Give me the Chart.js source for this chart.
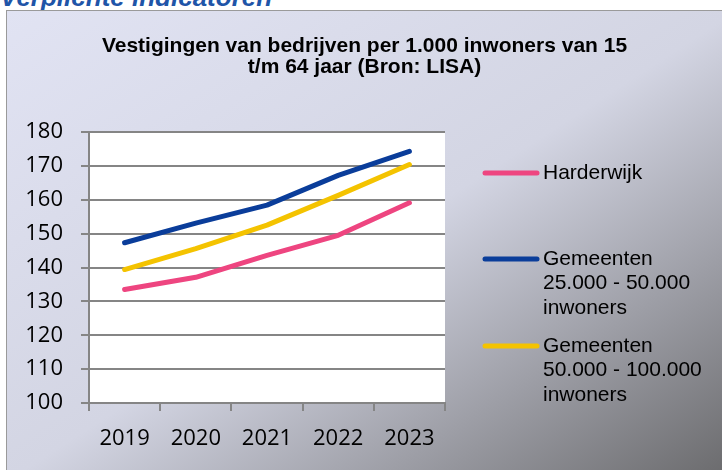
<!DOCTYPE html>
<html>
<head>
<meta charset="utf-8">
<script src="https://cdn.jsdelivr.net/npm/chart.js@4"></script>
<style>
  html, body { margin: 0; padding: 0; width: 722px; height: 470px; overflow: hidden; background: #fff; }
  #kop {
    position: absolute; left: 0; top: -16px;
    font: italic bold 26px "Liberation Sans", Arial, sans-serif; line-height: 26px;
    color: #1f55a8; white-space: nowrap;
  }
  #box {
    position: absolute; left: 6px; top: 10px; width: 730px; height: 470px;
    border-left: 1px solid #9a9a9a; border-top: 1px solid #9a9a9a;
    background: linear-gradient(to bottom right, #e1e3f3 0%, #d3d5e3 50%, #68686a 100%);
  }
  #wrap { position: absolute; left: 7px; top: 11px; width: 715px; height: 459px; }
</style>
</head>
<body>
<div id="kop">Verplichte indicatoren</div>
<div id="box"></div>
<div id="wrap"><canvas id="vestigingen"></canvas></div>
<script>
const jaren = ['2019', '2020', '2021', '2022', '2023'];
const harderwijk = [133.5, 137.1, 143.6, 149.5, 159.1];
const gem25k50k = [147.3, 153.1, 158.4, 167.2, 174.3];
const gem50k100k = [139.4, 145.6, 152.5, 161.3, 170.4];
const legendaTeksten = [
    ['Harderwijk'],
    ['Gemeenten', '25.000 - 50.000', 'inwoners'],
    ['Gemeenten', '50.000 - 100.000', 'inwoners']
];
const titelRegels = ['Vestigingen van bedrijven per 1.000 inwoners van 15', 't/m 64 jaar (Bron: LISA)'];

const gridKleur = '#858585';

// witte plotachtergrond
const plotAchtergrond = {
    id: 'plotAchtergrond',
    beforeDraw(chart) {
        const a = chart.chartArea;
        const c = chart.ctx;
        c.save();
        c.fillStyle = '#ffffff';
        c.fillRect(a.left, a.top, a.right - a.left, a.bottom - a.top);
        c.restore();
    }
};

// legenda rechts, met meerregelige teksten
const legendaRechts = {
    id: 'legendaRechts',
    afterDraw(chart) {
        const c = chart.ctx;
        const rijY = [162, 248, 335];
        c.save();
        c.font = '21px "Liberation Sans", Arial, sans-serif';
        c.fillStyle = '#000';
        c.textBaseline = 'middle';
        chart.data.datasets.forEach((ds, i) => {
            const y = rijY[i];
            c.strokeStyle = ds.borderColor;
            c.lineWidth = 5;
            c.lineCap = 'round';
            c.beginPath();
            c.moveTo(478, y);
            c.lineTo(530, y);
            c.stroke();
            legendaTeksten[i].forEach((t, j) => c.fillText(t, 536, y + j * 24.5));
        });
        c.restore();
    }
};

const tickFont = { family: '"Open Sans", sans-serif', size: 22 };

const ctx = document.getElementById('vestigingen').getContext('2d');
const vestigingen = new Chart(ctx, {
    type: 'line',
    data: {
        labels: jaren,
        datasets: [{
            label: 'Harderwijk',
            data: harderwijk,
            borderColor: '#ee4580'
        }, {
            label: 'Gemeenten 25.000 - 50.000 inwoners',
            data: gem25k50k,
            borderColor: '#0a3d9a'
        }, {
            label: 'Gemeenten 50.000 - 100.000 inwoners',
            data: gem50k100k,
            borderColor: '#f4c300'
        }]
    },
    options: {
        responsive: true,
        maintainAspectRatio: false,
        animation: false,
        layout: { padding: 0 },
        elements: {
            line: { borderWidth: 5, borderCapStyle: 'round', borderJoinStyle: 'round', tension: 0 },
            point: { radius: 0, hoverRadius: 0 }
        },
        plugins: {
            legend: { display: false },
            tooltip: { enabled: false },
            title: {
                display: true,
                text: titelRegels,
                color: '#000',
                font: { family: '"Liberation Sans", Arial, sans-serif', size: 21, weight: 'bold', lineHeight: 1.0 },
                padding: { top: 24.5, bottom: 54.5 }
            }
        },
        scales: {
            y: {
                min: 100,
                max: 180,
                afterFit(scale) { scale.width = 82; },
                ticks: { stepSize: 10, padding: 18, color: '#000', font: tickFont },
                grid: { color: gridKleur, lineWidth: 2, tickLength: 8 },
                border: { color: gridKleur, width: 2 }
            },
            // lege as rechts: ruimte voor de legenda
            ruimte: {
                type: 'linear',
                position: 'right',
                afterFit(scale) { scale.width = 277; },
                ticks: { display: false },
                grid: { display: false },
                border: { display: false }
            },
            x: {
                offset: true,
                afterFit(scale) { scale.height = 67; },
                ticks: { padding: 15, color: '#000', font: tickFont },
                grid: { offset: true, drawOnChartArea: false, color: gridKleur, lineWidth: 2, tickLength: 8 },
                border: { color: gridKleur, width: 2 }
            }
        }
    },
    plugins: [plotAchtergrond, legendaRechts]
});
</script>
</body>
</html>
